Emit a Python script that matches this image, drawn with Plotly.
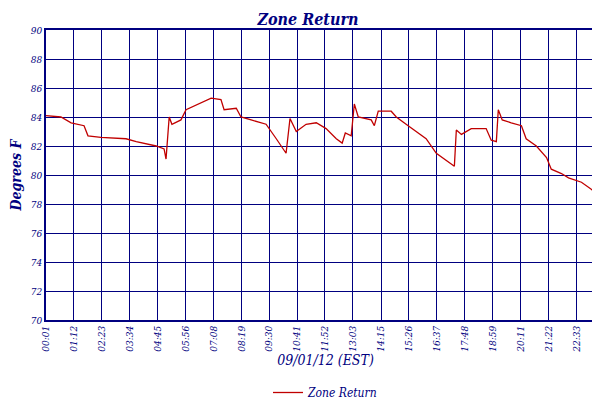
import plotly.graph_objects as go

times = ["00:01", "00:39", "01:05", "01:38", "01:48", "02:21", "03:25", "03:51", "04:42", "05:02",
         "05:07", "05:15", "05:22", "05:45", "05:58", "06:36", "07:02", "07:27", "07:35", "08:06",
         "08:18", "08:44", "09:22", "09:48", "10:13", "10:23", "10:39", "11:04", "11:30", "11:55",
         "12:21", "12:36", "12:44", "12:59", "13:07", "13:17", "13:50", "13:58", "14:08", "14:41",
         "14:54", "15:19", "15:45", "16:10", "16:36", "17:01", "17:22", "17:27", "17:40", "18:05",
         "18:43", "18:56", "19:09", "19:14", "19:24", "19:47", "20:13", "20:25", "20:51", "21:17",
         "21:29", "21:55", "22:13", "22:46", "23:12", "23:29", "23:44"]
temps = [84.1, 84.0, 83.6, 83.4, 82.7, 82.6, 82.5, 82.3, 82.0, 81.8,
         81.1, 84.0, 83.5, 83.8, 84.5, 85.0, 85.3, 85.2, 84.5, 84.6,
         84.0, 83.8, 83.5, 82.5, 81.5, 83.9, 83.0, 83.5, 83.6, 83.2,
         82.5, 82.2, 82.9, 82.7, 84.9, 84.0, 83.8, 83.4, 84.4, 84.4,
         84.0, 83.5, 83.0, 82.5, 81.5, 81.0, 80.6, 83.1, 82.8, 83.2,
         83.2, 82.4, 82.3, 84.5, 83.8, 83.6, 83.4, 82.5, 82.0, 81.2,
         80.4, 80.1, 79.8, 79.5, 79.0, 78.5, 78.3]
tick_labels = ["00:01", "01:12", "02:23", "03:34", "04:45", "05:56", "07:08", "08:19", "09:30",
               "10:41", "11:52", "13:03", "14:15", "15:26", "16:37", "17:48", "18:59", "20:11",
               "21:22", "22:33", "23:44", "23:45"]

day = "2012-09-01 "
navy = "#000080"
font = dict(family="DejaVu Serif Condensed", color=navy, style="italic")

fig = go.Figure(go.Scatter(
    x=[day + t for t in times], y=temps,
    mode="lines", name="Zone Return",
    line=dict(color="#c00000", width=1.3),
))

fig.update_layout(
    width=600, height=400,
    margin=dict(l=38, r=1, t=22, b=78),
    paper_bgcolor="white", plot_bgcolor="white",
    title=dict(text="<b>Zone Return</b>", x=0.5, y=0.985, yanchor="top",
               font=dict(size=16, **font)),
    font=font,
    showlegend=True,
    legend=dict(orientation="h", x=0.5, xanchor="center", y=-0.2, yanchor="top",
                font=dict(size=12, **font)),
)
fig.update_xaxes(
    type="date", range=[day + "00:01", day + "23:46"],
    tickvals=[day + t for t in tick_labels], ticktext=tick_labels, tickangle=-90,
    tickfont=dict(size=10, **font),
    showgrid=True, gridcolor=navy, gridwidth=1,
    showline=True, linecolor=navy, linewidth=1.5, mirror=True,
    title=dict(text="09/01/12 (EST)", font=dict(size=14, **font), standoff=4),
)
fig.update_yaxes(
    range=[70, 90], dtick=2, tickfont=dict(size=10, **font),
    showgrid=True, gridcolor=navy, gridwidth=1,
    showline=True, linecolor=navy, linewidth=1.5, mirror=True,
    title=dict(text="<b>Degrees F</b>", font=dict(size=14, **font), standoff=6),
)

fig.write_html("out.html")
